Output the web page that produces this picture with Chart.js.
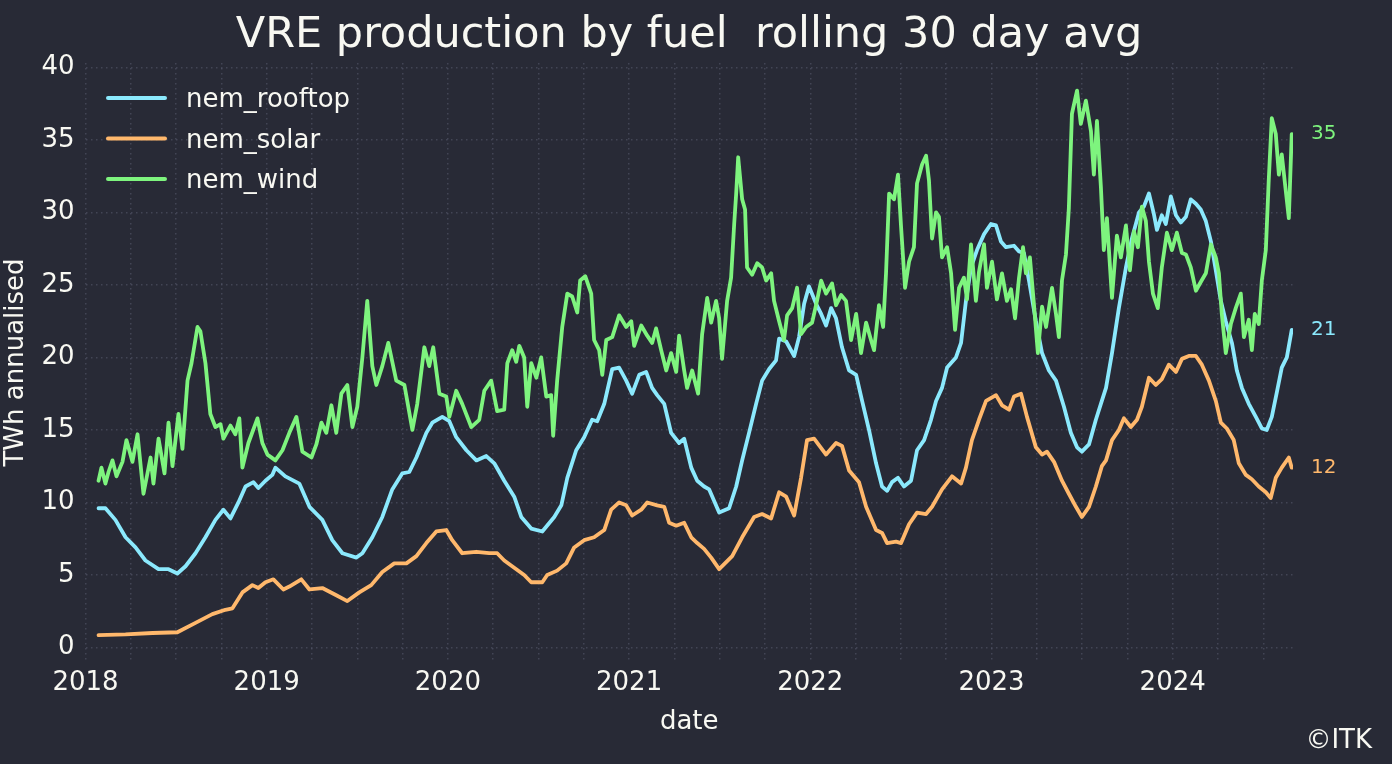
<!DOCTYPE html>
<html>
<head>
<meta charset="utf-8">
<script src="https://cdn.jsdelivr.net/npm/chart.js@4.4.1/dist/chart.umd.min.js"></script>
<style>
  html, body { margin: 0; background: #282a36; }
  canvas { display: block; }
</style>
</head>
<body>
<canvas id="chart" width="1392" height="764"></canvas>
<script>
// dates are decimal years, values TWh annualised (rolling 30 day avg)
const rooftopT = [2018.072,2018.110,2018.165,2018.221,2018.276,2018.331,2018.403,2018.458,2018.507,2018.552,
  2018.607,2018.662,2018.717,2018.761,2018.800,2018.844,2018.883,2018.927,2018.954,2018.993,
  2019.031,2019.048,2019.103,2019.180,2019.236,2019.307,2019.362,2019.418,2019.495,2019.528,
  2019.583,2019.638,2019.693,2019.748,2019.787,2019.826,2019.881,2019.914,2019.969,2020.008,
  2020.046,2020.102,2020.157,2020.212,2020.256,2020.311,2020.366,2020.405,2020.460,2020.521,
  2020.587,2020.626,2020.659,2020.708,2020.752,2020.796,2020.824,2020.863,2020.907,2020.945,
  2020.984,2021.017,2021.056,2021.094,2021.127,2021.155,2021.194,2021.232,2021.276,2021.304,
  2021.343,2021.376,2021.414,2021.442,2021.497,2021.552,2021.591,2021.624,2021.662,2021.701,
  2021.734,2021.773,2021.811,2021.828,2021.867,2021.911,2021.938,2021.966,2021.993,2022.032,
  2022.060,2022.087,2022.115,2022.142,2022.175,2022.214,2022.253,2022.286,2022.324,2022.363,
  2022.396,2022.424,2022.451,2022.484,2022.517,2022.556,2022.589,2022.628,2022.666,2022.694,
  2022.727,2022.755,2022.804,2022.832,2022.859,2022.887,2022.920,2022.959,2022.997,2023.025,
  2023.052,2023.080,2023.124,2023.152,2023.179,2023.207,2023.245,2023.279,2023.317,2023.356,
  2023.400,2023.438,2023.472,2023.499,2023.538,2023.576,2023.609,2023.632,2023.665,2023.703,
  2023.742,2023.775,2023.814,2023.841,2023.869,2023.896,2023.913,2023.940,2023.962,2023.990,
  2024.018,2024.045,2024.073,2024.100,2024.128,2024.155,2024.183,2024.211,2024.238,2024.266,
  2024.293,2024.327,2024.354,2024.382,2024.420,2024.459,2024.492,2024.519,2024.547,2024.575,
  2024.602,2024.630,2024.657];
const rooftop = [9.6,9.6,8.8,7.6,6.9,6.0,5.4,5.4,5.1,5.6,
  6.5,7.6,8.8,9.5,8.9,10.0,11.1,11.4,11.0,11.5,
  11.9,12.4,11.8,11.3,9.7,8.8,7.4,6.5,6.2,6.5,
  7.6,9.0,10.9,12.0,12.1,13.1,14.8,15.5,15.9,15.6,
  14.5,13.6,12.9,13.2,12.7,11.5,10.4,9.0,8.2,8.0,
  9.0,9.8,11.7,13.6,14.5,15.7,15.6,16.8,19.2,19.3,
  18.4,17.5,18.8,19.0,17.9,17.4,16.8,14.8,14.1,14.4,
  12.4,11.5,11.1,10.9,9.3,9.6,11.1,12.9,14.8,16.8,
  18.4,19.2,19.8,21.3,21.1,20.1,21.4,23.7,24.9,23.7,
  23.0,22.2,23.4,22.7,20.7,19.1,18.8,17.0,15.0,12.7,
  11.1,10.8,11.4,11.7,11.1,11.5,13.6,14.3,15.7,17.0,
  17.9,19.3,20.0,21.0,23.9,26.2,27.4,28.5,29.2,29.1,
  28.0,27.6,27.7,27.3,27.2,25.3,22.5,20.3,19.1,18.4,
  16.6,14.8,13.8,13.5,14.0,15.7,17.0,17.9,20.3,23.4,
  26.2,28.2,30.0,30.4,31.3,29.9,28.8,29.8,29.2,31.1,
  29.8,29.3,29.7,30.9,30.6,30.2,29.4,28.0,26.0,23.9,
  22.5,21.0,19.1,17.9,16.8,15.9,15.1,15.0,15.9,17.6,
  19.3,20.0,21.9];

const solarT = [2018.072,2018.221,2018.370,2018.507,2018.607,2018.700,2018.772,2018.811,2018.866,2018.921,
  2018.954,2018.993,2019.037,2019.092,2019.125,2019.191,2019.236,2019.307,2019.384,2019.445,
  2019.511,2019.577,2019.638,2019.704,2019.771,2019.826,2019.881,2019.936,2019.991,2020.024,
  2020.079,2020.157,2020.228,2020.272,2020.311,2020.366,2020.421,2020.460,2020.521,2020.548,
  2020.603,2020.653,2020.697,2020.752,2020.807,2020.863,2020.901,2020.945,2020.984,2021.017,
  2021.067,2021.100,2021.155,2021.194,2021.221,2021.260,2021.304,2021.343,2021.376,2021.414,
  2021.453,2021.497,2021.569,2021.624,2021.690,2021.734,2021.784,2021.828,2021.867,2021.911,
  2021.949,2021.982,2022.021,2022.087,2022.142,2022.175,2022.214,2022.269,2022.308,2022.363,
  2022.396,2022.424,2022.473,2022.501,2022.545,2022.589,2022.639,2022.672,2022.727,2022.782,
  2022.832,2022.859,2022.892,2022.931,2022.970,2023.025,2023.058,2023.097,2023.124,2023.163,
  2023.196,2023.245,2023.279,2023.306,2023.345,2023.389,2023.427,2023.466,2023.499,2023.538,
  2023.576,2023.609,2023.632,2023.665,2023.703,2023.731,2023.769,2023.803,2023.830,2023.869,
  2023.907,2023.940,2023.979,2024.018,2024.051,2024.089,2024.128,2024.161,2024.200,2024.238,
  2024.266,2024.299,2024.337,2024.365,2024.404,2024.437,2024.475,2024.514,2024.541,2024.569,
  2024.602,2024.641,2024.657];
const solar = [0.85,0.9,1.0,1.05,1.7,2.3,2.6,2.7,3.8,4.3,
  4.1,4.5,4.7,4.0,4.2,4.7,4.0,4.1,3.6,3.2,
  3.8,4.3,5.2,5.8,5.8,6.3,7.2,8.0,8.1,7.4,
  6.5,6.6,6.5,6.5,6.0,5.5,5.0,4.5,4.5,5.0,
  5.3,5.8,6.9,7.4,7.6,8.1,9.5,10.0,9.8,9.1,
  9.5,10.0,9.8,9.7,8.6,8.4,8.6,7.6,7.2,6.8,
  6.2,5.4,6.3,7.6,9.0,9.2,8.9,10.7,10.4,9.1,
  11.7,14.3,14.4,13.3,14.1,13.9,12.2,11.4,9.7,8.1,
  7.9,7.2,7.3,7.2,8.5,9.3,9.2,9.7,10.9,11.8,
  11.3,12.4,14.3,15.7,17.0,17.4,16.7,16.4,17.3,17.5,
  15.9,13.8,13.3,13.5,12.8,11.5,10.6,9.7,9.0,9.7,
  11.1,12.5,12.9,14.3,15.0,15.8,15.2,15.7,16.6,18.6,
  18.1,18.5,19.5,19.0,19.9,20.1,20.1,19.5,18.4,17.0,
  15.5,15.1,14.3,12.7,11.9,11.6,11.1,10.7,10.3,11.7,
  12.4,13.1,12.4];

const windT = [2018.072,2018.088,2018.110,2018.127,2018.149,2018.171,2018.204,2018.226,2018.259,2018.287,
  2018.320,2018.359,2018.375,2018.403,2018.436,2018.458,2018.480,2018.513,2018.535,2018.563,
  2018.585,2018.618,2018.634,2018.662,2018.689,2018.717,2018.745,2018.761,2018.800,2018.827,
  2018.849,2018.866,2018.899,2018.949,2018.976,2019.004,2019.048,2019.087,2019.125,2019.164,
  2019.197,2019.247,2019.274,2019.302,2019.329,2019.357,2019.384,2019.412,2019.445,2019.473,
  2019.500,2019.528,2019.555,2019.583,2019.605,2019.638,2019.671,2019.715,2019.760,2019.804,
  2019.831,2019.870,2019.897,2019.919,2019.953,2019.991,2020.008,2020.046,2020.079,2020.129,
  2020.173,2020.201,2020.239,2020.272,2020.311,2020.328,2020.355,2020.377,2020.394,2020.421,
  2020.438,2020.460,2020.488,2020.515,2020.543,2020.570,2020.581,2020.603,2020.631,2020.659,
  2020.686,2020.714,2020.730,2020.758,2020.791,2020.807,2020.835,2020.852,2020.874,2020.907,
  2020.945,2020.984,2021.012,2021.028,2021.067,2021.100,2021.127,2021.149,2021.177,2021.205,
  2021.232,2021.260,2021.276,2021.304,2021.320,2021.348,2021.381,2021.403,2021.431,2021.453,
  2021.480,2021.497,2021.513,2021.541,2021.563,2021.580,2021.591,2021.602,2021.624,2021.640,
  2021.651,2021.679,2021.707,2021.734,2021.756,2021.784,2021.800,2021.828,2021.855,2021.872,
  2021.900,2021.927,2021.949,2021.977,2022.010,2022.037,2022.060,2022.087,2022.120,2022.142,
  2022.170,2022.197,2022.225,2022.253,2022.280,2022.308,2022.335,2022.352,2022.379,2022.402,
  2022.418,2022.435,2022.462,2022.484,2022.501,2022.523,2022.545,2022.572,2022.589,2022.617,
  2022.639,2022.655,2022.672,2022.694,2022.710,2022.727,2022.755,2022.777,2022.799,2022.821,
  2022.848,2022.865,2022.887,2022.914,2022.931,2022.959,2022.975,2023.003,2023.030,2023.058,
  2023.085,2023.108,2023.130,2023.152,2023.174,2023.190,2023.212,2023.234,2023.256,2023.279,
  2023.301,2023.334,2023.356,2023.372,2023.389,2023.411,2023.427,2023.444,2023.472,2023.493,
  2023.521,2023.549,2023.565,2023.582,2023.604,2023.620,2023.637,2023.665,2023.692,2023.714,
  2023.742,2023.764,2023.786,2023.808,2023.830,2023.852,2023.869,2023.891,2023.918,2023.940,
  2023.968,2023.996,2024.023,2024.051,2024.073,2024.100,2024.128,2024.155,2024.183,2024.211,
  2024.238,2024.255,2024.271,2024.293,2024.321,2024.348,2024.376,2024.393,2024.420,2024.437,
  2024.453,2024.475,2024.492,2024.514,2024.530,2024.547,2024.569,2024.586,2024.602,2024.624,
  2024.641,2024.657];
const wind = [11.5,12.4,11.3,12.1,12.9,11.8,12.8,14.3,12.8,14.7,
  10.6,13.1,11.3,14.4,12.0,15.5,12.5,16.1,13.7,18.4,
  19.6,22.1,21.8,19.6,16.1,15.2,15.4,14.4,15.3,14.7,
  15.8,12.4,14.1,15.8,14.1,13.3,12.9,13.6,14.8,15.9,
  13.5,13.1,14.0,15.5,14.8,16.7,14.8,17.5,18.1,15.2,
  16.6,20.0,23.9,19.4,18.1,19.4,21.0,18.4,18.1,15.0,
  16.8,20.7,19.4,20.7,17.5,17.3,15.9,17.7,16.8,15.2,
  15.7,17.7,18.4,16.3,16.4,19.6,20.5,19.7,20.8,20.0,
  16.6,19.6,18.6,20.0,17.3,17.4,14.6,18.4,22.1,24.4,
  24.2,23.1,25.3,25.6,24.4,21.2,20.5,18.8,21.2,21.4,
  22.9,22.1,22.5,20.8,22.2,21.5,21.0,22.0,20.5,19.1,
  20.3,19.0,21.5,19.1,17.9,19.1,17.5,21.6,24.1,22.4,
  23.9,22.7,19.9,23.9,25.5,29.2,31.3,33.8,30.9,30.2,
  26.2,25.7,26.5,26.2,25.3,25.8,23.9,22.5,21.2,22.9,
  23.4,24.8,21.6,22.1,22.4,23.9,25.3,24.4,25.1,23.6,
  24.3,23.9,21.2,23.0,20.3,22.4,21.2,20.5,23.6,22.1,
  25.8,31.3,30.9,32.6,29.0,24.8,26.6,27.6,32.0,33.3,
  33.9,32.2,28.2,30.0,29.7,26.9,27.6,25.8,21.9,24.8,
  25.5,24.0,27.8,23.9,25.9,27.8,24.8,26.6,24.0,25.8,
  23.9,24.7,22.7,25.5,27.6,25.8,26.9,23.7,20.3,23.5,
  22.1,24.8,23.0,21.4,25.3,27.1,30.3,36.8,38.4,36.1,
  37.7,35.6,32.6,36.3,31.7,27.4,29.6,24.1,28.4,26.9,
  29.1,26.0,28.7,27.6,30.4,29.4,26.6,24.4,23.4,26.2,
  28.6,27.4,28.6,27.2,27.1,26.2,24.6,25.2,25.8,27.8,
  26.9,25.8,23.0,20.3,22.3,23.4,24.4,21.4,22.6,20.5,
  23.0,22.3,25.3,27.4,32.2,36.5,35.4,32.6,34.0,31.5,
  29.6,35.4];

const seriesNames = ['nem_rooftop', 'nem_solar', 'nem_wind'];
const yearTicks = [2018, 2019, 2020, 2021, 2022, 2023, 2024];
const xGridTicks = [2018, 2018.25, 2018.5, 2018.75, 2019, 2019.25, 2019.5, 2019.75,
  2020, 2020.25, 2020.5, 2020.75, 2021, 2021.25, 2021.5, 2021.75,
  2022, 2022.25, 2022.5, 2022.75, 2023, 2023.25, 2023.5, 2023.75,
  2024, 2024.25, 2024.5];
const yTicks = [0, 5, 10, 15, 20, 25, 30, 35, 40];

const BG = '#282a36';
const FG = '#f8f8f2';
const GRID = 'rgba(110,114,136,0.38)';
const COLORS = ['#8be9fd', '#ffb86c', '#7ef47e'];
const FONT = '"DejaVu Sans", "Liberation Sans", sans-serif';

function pts(ts, vs) {
  return ts.map((t, i) => ({ x: t, y: vs[i] }));
}

const decor = {
  id: 'decor',
  beforeDraw(chart) {
    const c = chart.ctx;
    c.save();
    c.fillStyle = BG;
    c.fillRect(0, 0, chart.width, chart.height);
    c.restore();
  },
  afterDraw(chart) {
    const c = chart.ctx;
    const a = chart.chartArea;
    c.save();
    c.fillStyle = FG;

    // title
    c.font = '43px ' + FONT;
    c.textAlign = 'center';
    c.textBaseline = 'alphabetic';
    c.fillText('VRE production by fuel  rolling 30 day avg', 689, 47);

    // axis titles + credit
    c.font = '26px ' + FONT;
    c.fillText('date', (a.left + a.right) / 2, 729);
    c.textAlign = 'right';
    c.fillText('©ITK', 1372, 748);
    c.save();
    c.translate(16, (a.top + a.bottom) / 2);
    c.rotate(-Math.PI / 2);
    c.textAlign = 'center';
    c.textBaseline = 'middle';
    c.fillText('TWh annualised', 0, 0);
    c.restore();

    // legend, inside the plot top-left
    const rows = [98, 138.5, 179];
    seriesNames.forEach((name, i) => {
      c.strokeStyle = COLORS[i];
      c.lineWidth = 4;
      c.lineCap = 'round';
      c.beginPath();
      c.moveTo(108, rows[i]);
      c.lineTo(165, rows[i]);
      c.stroke();
      c.fillStyle = FG;
      c.textAlign = 'left';
      c.textBaseline = 'alphabetic';
      c.fillText(name, 186, rows[i] + 9);
    });

    // last value labels at the right
    c.font = '20px ' + FONT;
    c.textAlign = 'left';
    c.textBaseline = 'middle';
    chart.data.datasets.forEach((ds, i) => {
      const meta = chart.getDatasetMeta(i);
      const last = meta.data[meta.data.length - 1];
      const val = ds.data[ds.data.length - 1].y;
      c.fillStyle = ds.borderColor;
      c.fillText(String(Math.floor(val)), a.right + 18, last.y);
    });
    c.restore();
  }
};

const lineStyle = { borderWidth: 3.8, pointRadius: 0, tension: 0, borderJoinStyle: 'round', borderCapStyle: 'round', fill: false };

new Chart(document.getElementById('chart'), {
  type: 'line',
  data: {
    datasets: [
      { label: seriesNames[0], data: pts(rooftopT, rooftop), borderColor: COLORS[0], order: 2, ...lineStyle },
      { label: seriesNames[1], data: pts(solarT, solar), borderColor: COLORS[1], order: 1, ...lineStyle },
      { label: seriesNames[2], data: pts(windT, wind), borderColor: COLORS[2], order: 0, ...lineStyle },
    ],
  },
  options: {
    responsive: false,
    animation: false,
    devicePixelRatio: 1,
    layout: { padding: { top: 63, right: 99, bottom: 0, left: 0 } },
    plugins: { legend: { display: false }, title: { display: false }, tooltip: { enabled: false } },
    scales: {
      x: {
        type: 'linear',
        min: 2018,
        max: 2024.664,
        afterBuildTicks: s => { s.ticks = xGridTicks.map(v => ({ value: v })); },
        afterFit: s => { s.height = 102; },
        ticks: {
          autoSkip: false, maxRotation: 0, padding: 6, color: FG,
          font: { family: FONT, size: 26 },
          callback: v => yearTicks.includes(v) ? String(v) : '',
        },
        grid: { color: GRID, lineWidth: 1.5, drawTicks: false },
        border: { display: false, dash: [1.5, 3.5] },
      },
      y: {
        min: -1,
        max: 40.3,
        afterBuildTicks: s => { s.ticks = yTicks.map(v => ({ value: v })); },
        afterFit: s => { s.width = 85.5; },
        ticks: { padding: 11, color: FG, font: { family: FONT, size: 26 } },
        grid: { color: GRID, lineWidth: 1.5, drawTicks: false },
        border: { display: false, dash: [1.5, 3.5] },
      },
    },
  },
  plugins: [decor],
});
</script>
</body>
</html>
